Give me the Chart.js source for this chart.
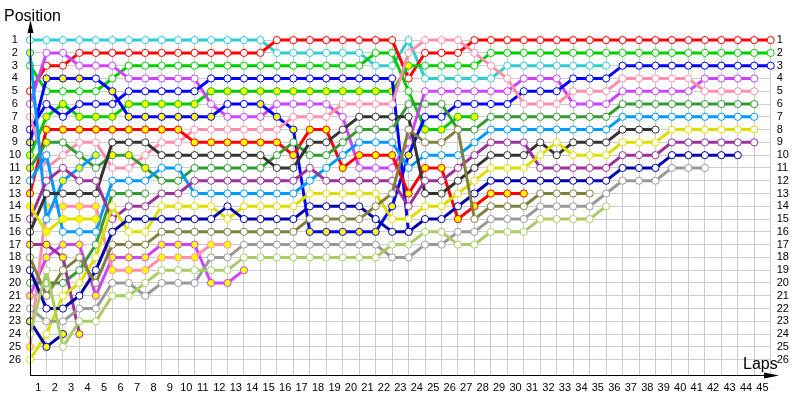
<!DOCTYPE html>
<html>
<head>
<meta charset="utf-8">
<script src="https://cdn.jsdelivr.net/npm/chart.js@4.4.1/dist/chart.umd.min.js"></script>
<style>
  html, body { margin: 0; background: #fff; }
  #wrap { width: 800px; height: 400px; }
</style>
</head>
<body>
<div id="wrap"><canvas id="lapChart" width="800" height="400"></canvas></div>
<script>
// lap labels on the x axis (lap 0 = grid)
const lapLabels = ["1","2","3","4","5","6","7","8","9","10","11","12","13","14","15","16","17","18","19","20",
  "21","22","23","24","25","26","27","28","29","30","31","32","33","34","35","36","37","38","39","40",
  "41","42","43","44","45"];
const positionTicks = [1,2,3,4,5,6,7,8,9,10,11,12,13,14,15,16,17,18,19,20,21,22,23,24,25,26];

// position per lap, index 0 = grid
const cyan1 = [1,1,1,1,1,1,1,1,1,1,1,1,1,1,1,2,2,2,2,2,2,3,3,1,4,4,4,4,4,3,3,3,3,3,3,3];
const red1 = [5,3,3,2,2,2,2,2,2,2,2,2,2,2,2,1,1,1,1,1,1,1,1,4,2,2,2,1,1,1,1,1,1,1,1,1,1,1,1,1,1,1,1,1,1,1];
const red2 = [13,8,8,8,8,8,8,8,8,8,9,9,9,9,9,9,10,8,8,11,10,10,10,13,11,11,15,14,13,13,13];
const green1 = [3,5,5,5,5,4,3,3,3,3,3,3,3,3,3,3,3,3,3,3,3,2,2,5,8,8,7,7];
const green2 = [10,7,6,7,7,7,6,6,6,6,6,5,5,5,5,5,5,5,5,5,5,5,5,3,3,3,3,3,2,2,2,2,2,2,2,2,2,2,2,2,2,2,2,2,2,2];
const magenta1 = [6,2,2,3,3,3,4,4,4,4,4,6,7,7,7,6,6,6,6,7,11,11,11,9,5,5,5,5,5,5,4,4,4,6,6,6,5,5,5,5,5,4,4,4,4];
const magenta2 = [21,18,17,17,21,18,18,18,17,17,17,20,20,19];
const blue1 = [8,6,7,6,6,6,5,5,5,5,5,4,4,4,4,4,4,4,4,4,4,4,4,16];
const blue2 = [9,4,4,4,4,5,7,7,7,7,7,7,6,6,6,7,8,16,16,16,16,16,14,10,7,7,6,6,6,6,5,5,5,4,4,4,3,3,3,3,3,3,3,3,3,3];
const pink1 = [7,11,10,9,9,11,11,10,9,9,8,8,8,8,8,8,7,7,7,6,6,6,6,2,1,1,1,2,3,4,6,6,6,5,5,5,4,4,4,4,4,5,5,5,5];
const pink2 = [25,14,14,14,14,19,19,19,18,18,18,17,17];
const darkGreen1 = [11,9,9,10,11,10,10,11,12,12,11,11,11,11,11,10,9,10,10,9,8,8,8,6,6,6,8,8,7,7,7,7,7,7,7,7,6,6,6,6,6,6,6,6,6];
const darkGreen2 = [20,20,20,19,17,13,13,13];
const lightBlue1 = [12,10,16,16,16,12,12,12,11,11,13,13,13,13,13,13,13,12,11,10,9,9,9,11,10,10,10,9,8,8,8,8,8,8,8,8,7,7,7,7,7,7,7,7,7];
const lightBlue2 = [2,15,12,11,10];
const darkGray1 = [16,13,13,13,13,9,9,9,10,10,10,10,10,10,10,11,11,9,9,8,7,7,7,7,13,13,12,11,10,10,10,9,10,9,9,9,8,8,8];
const purple1 = [15,12,11,12,12,15,14,14,13,13,12,12,12,12,12,12,12,11,12,12,12,12,12,14,12,12,11,10,9,9,9,11,11,11,11,11,10,10,10,9,9,9,9,9,9];
const purple2 = [17,17,18,24];
const yellow1 = [14,16,15,15,15];
const yellow2 = [26,24,21,20,18,14,16,16,14,14,14,14,15,14,14,14,14,13,13,13,13,13,15,15,14,14,13,12,11,11,11,10,9,10,10,10,9,9,9,8,8,8,8,8,8];
const navy1 = [19,22,22,21,19,16,15,15,15,15,15,15,14,15,15,15,15,14,14,14,14,15,16,16,15,15,14,13,12,12,12,12,12,12,12,12,11,11,11,10,10,10,10,10];
const navy2 = [23,25,24];
const olive1 = [18,21,19,18,20,17,17,17,16,16,16,16,16,16,16,16,16,15,15,15,15,14,13,8,9,9,8,15,14,14,14,13,13,13,13];
const gray1 = [22,23,23,22,22,20,20,21,20,20,20,18,18,17,17,17,17,17,17,17,17,17,18,18,17,17,16,16,15,15,15,14,14,14,14,13,12,12,12,11,11,11];
const lightGreen1 = [24,19,25,23,23,21,21,20,19,19,19,19,19,18,18,18,18,18,18,18,18,18,17,17,16,16,17,17,16,16,16,15,15,15,15,14];

// laps run on the soft (yellow marker) tyre, [from, to]
const red2Soft = [[0, 30]];
const green1Soft = [[24, 27]];
const green2Soft = [[0, 23]];
const blue2Soft = [[0, 3], [5, 11], [14, 23]];
const magenta2Soft = [[0, 13]];
const pink2Soft = [[0, 12]];
const darkGreen1Soft = [[0, 1], [5, 7]];
const lightBlue2Soft = [[0, 0], [2, 4]];
const purple2Soft = [[0, 3]];
const yellow1Soft = [[0, 4]];
const navy2Soft = [[0, 2]];

const teamColors = {
  cyan: "#33cccc", red: "#ff0000", green: "#00cc00", magenta: "#cc44ff", blue: "#0000ff",
  pink: "#ff8fab", darkGreen: "#339933", lightBlue: "#0099ff", darkGray: "#333333",
  purple: "#993399", yellow: "#dddd00", navy: "#0000aa", olive: "#808040", gray: "#999999",
  lightGreen: "#aacc66"
};

// drawn bottom to top
const drivers = [
  [lightGreen1, "lightGreen", []], [gray1, "gray", []], [olive1, "olive", []],
  [navy2, "navy", navy2Soft], [navy1, "navy", []], [yellow2, "yellow", []], [yellow1, "yellow", yellow1Soft],
  [purple2, "purple", purple2Soft], [purple1, "purple", []], [darkGray1, "darkGray", []],
  [lightBlue2, "lightBlue", lightBlue2Soft], [lightBlue1, "lightBlue", []],
  [darkGreen2, "darkGreen", []], [darkGreen1, "darkGreen", darkGreen1Soft],
  [red2, "red", red2Soft], [pink2, "pink", pink2Soft], [pink1, "pink", []],
  [blue2, "blue", blue2Soft], [blue1, "blue", []], [magenta2, "magenta", magenta2Soft],
  [magenta1, "magenta", []], [green2, "green", green2Soft], [green1, "green", green1Soft],
  [red1, "red", []], [cyan1, "cyan", []]
];

function isSoft(ranges, lap) {
  return ranges.some(r => lap >= r[0] && lap <= r[1]);
}

const datasets = drivers.map(([positions, team, soft]) => ({
  data: positions.map((p, lap) => ({ x: lap, y: p })),
  borderColor: teamColors[team],
  borderWidth: 3,
  pointRadius: 3.6,
  pointBorderWidth: 1,
  pointBorderColor: teamColors[team],
  pointBackgroundColor: positions.map((p, lap) => isSoft(soft, lap) ? "#ffff00" : "#ffffff"),
  tension: 0,
  clip: false,
  xAxisID: "x",
  yAxisID: "y"
}));

const font = { family: "'Liberation Sans', Arial, sans-serif", size: 11 };

// axis arrows and the two captions
const axisDecor = {
  id: "axisDecor",
  afterDraw(chart) {
    const c = chart.ctx;
    const a = chart.chartArea;
    c.save();
    c.strokeStyle = "#000";
    c.fillStyle = "#000";
    c.lineWidth = 1;
    c.beginPath();
    c.moveTo(a.left + 0.5, a.bottom);
    c.lineTo(a.left + 0.5, 30);
    c.moveTo(a.left, a.bottom + 0.5);
    c.lineTo(770, a.bottom + 0.5);
    c.stroke();
    c.beginPath();
    c.moveTo(a.left + 0.5, 20);
    c.lineTo(a.left - 2.5, 33);
    c.lineTo(a.left + 3.5, 33);
    c.closePath();
    c.fill();
    c.beginPath();
    c.moveTo(779, a.bottom + 0.5);
    c.lineTo(764, a.bottom - 2.5);
    c.lineTo(764, a.bottom + 3.5);
    c.closePath();
    c.fill();
    c.font = "16px 'Liberation Sans', Arial, sans-serif";
    c.textBaseline = "alphabetic";
    c.textAlign = "left";
    c.fillText("Position", 4, 21);
    c.fillText("Laps", 743, 369);
    c.restore();
  }
};

new Chart(document.getElementById("lapChart"), {
  type: "line",
  data: { labels: lapLabels, datasets },
  options: {
    responsive: false,
    animation: false,
    layout: { padding: { top: 35, left: 0, right: 0, bottom: 0 }, autoPadding: false },
    plugins: { legend: { display: false }, tooltip: { enabled: false }, title: { display: false } },
    scales: {
      x: {
        type: "linear", min: 0, max: 45, position: "bottom", weight: 0,
        ticks: { display: false, stepSize: 1 },
        grid: { color: "#cccccc", lineWidth: 1, drawTicks: false },
        border: { display: false },
        afterFit(s) { s.height = 0; }
      },
      xLab: {
        type: "category", labels: lapLabels, offset: true, position: "bottom", weight: 1,
        grid: { display: false, drawTicks: false },
        border: { display: false },
        ticks: { font, color: "#000", padding: 6, autoSkip: false, maxRotation: 0 },
        afterFit(s) { s.height = 25; }
      },
      y: {
        type: "linear", reverse: true, min: 0.6, max: 27.2, position: "left",
        afterBuildTicks(s) { s.ticks = positionTicks.map(v => ({ value: v })); },
        ticks: { font, color: "#000", padding: 9, crossAlign: "center", autoSkip: false },
        grid: { color: "#cccccc", lineWidth: 1, drawTicks: false },
        border: { display: false },
        afterFit(s) { s.width = 30; }
      },
      yRight: {
        type: "linear", reverse: true, min: 0.6, max: 27.2, position: "right",
        afterBuildTicks(s) { s.ticks = positionTicks.map(v => ({ value: v })); },
        ticks: { font, color: "#000", padding: 6, autoSkip: false },
        grid: { display: false, drawTicks: false },
        border: { display: false },
        afterFit(s) { s.width = 29.3; }
      }
    }
  },
  plugins: [axisDecor]
});
</script>
</body>
</html>
